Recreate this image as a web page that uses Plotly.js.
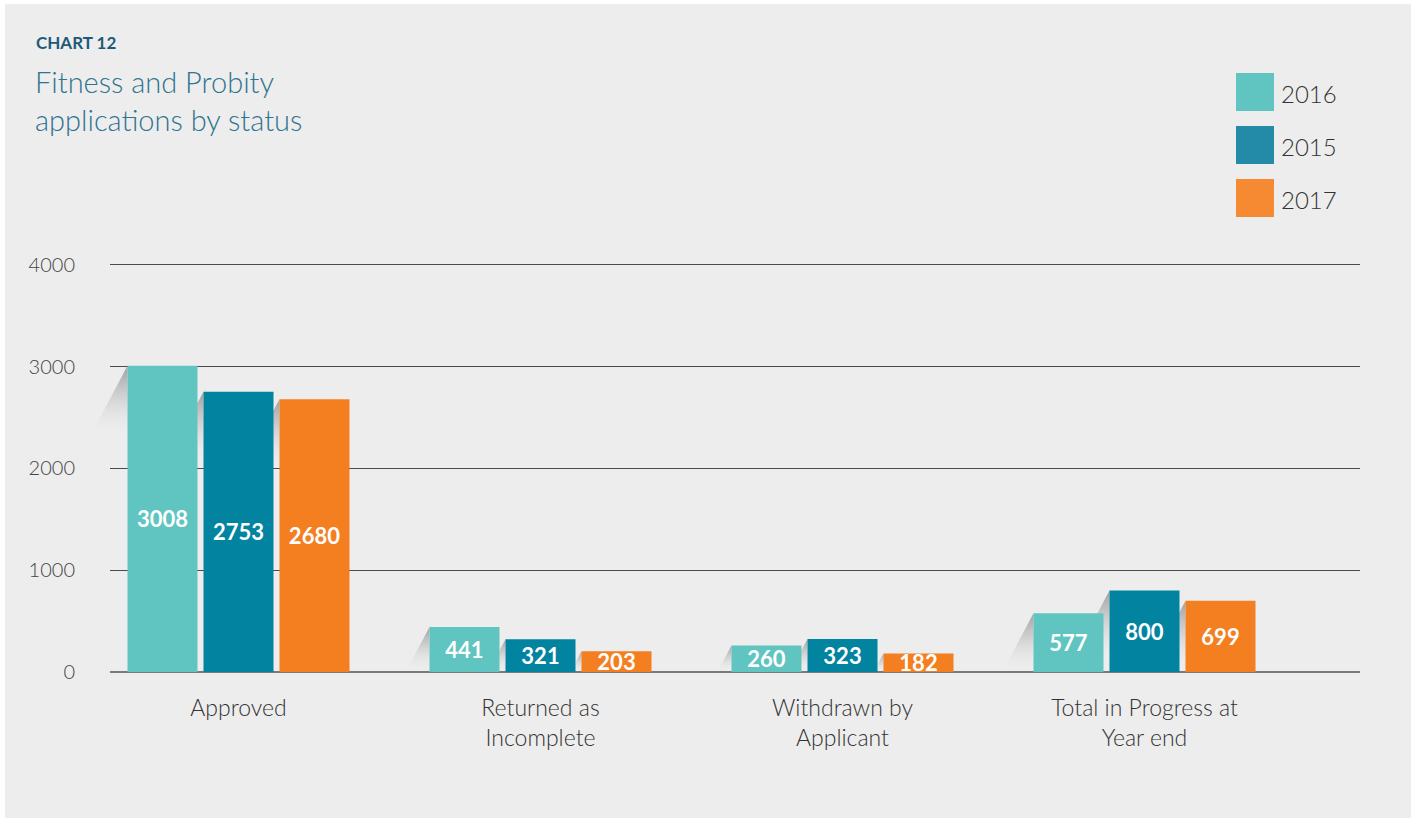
<!DOCTYPE html>
<html>
<head>
<meta charset="utf-8">
<script src="https://cdn.plot.ly/plotly-3.0.1.min.js"></script>
<style>
  html, body { margin: 0; padding: 0; background: #ffffff; width: 1416px; height: 818px; overflow: hidden; }
  #chart { position: absolute; left: 5px; top: 4px; width: 1406px; height: 814px; }
</style>
</head>
<body>
<div id="chart"></div>
<script>
// ---- data ----
const categories = ["Approved", "Returned as<br>Incomplete", "Withdrawn by<br>Applicant", "Total in Progress at<br>Year end"];
const seriesNames = ["2016", "2015", "2017"];
const values2016 = [3008, 441, 260, 577];
const values2015 = [2753, 321, 323, 800];
const values2017 = [2680, 203, 182, 699];
const yTicks = [0, 1000, 2000, 3000, 4000];

// ---- styling ----
const barColors = ["#60c5c1", "#0283a0", "#f47f20"];
const legendColors = ["#60c5c1", "#238aa7", "#f68a33"];
const FONT = "Lato, 'Open Sans', sans-serif";

// layout geometry (page pixels -> paper)
const W = 1406, H = 814, ML = 55, MR = 51, MT = 220, MB = 146;
const plotW = W - ML - MR, plotH = H - MT - MB;
const px = p => (p - 5 - ML) / plotW;
const py = p => ((H - MB) - (p - 4)) / plotH;

const barDomainStart = px(110);
const xRange = [-0.4255, 3.7136];
const unitPx = (plotW * (1 - barDomainStart)) / (xRange[1] - xRange[0]);
const xRangeShadow = [xRange[0] - (plotW * barDomainStart) / unitPx, xRange[1]];
const yRange = [0, 4400];
const bargap = 0.245, bargroupgap = 0.079;
const slot = (1 - bargap) / 3;
const bw = slot * (1 - bargroupgap);

const allSeries = [values2016, values2015, values2017];
const xIdx = categories.map((_, i) => i);

const traces = [];
// soft shadows (wider, hidden subplot drawn beneath the bar subplot)
allSeries.forEach((vals, t) => {
  vals.forEach((v, c) => {
    const xl = c + (t - 1) * slot - bw / 2;
    const sy = Math.min(v, 700);
    const sx = 0.125 * sy / 700;
    traces.push({
      type: "scatter", mode: "none", xaxis: "x", yaxis: "y",
      x: [xl, xl - sx, xl, xl],
      y: [v, v - sy, v - sy, v],
      fill: "toself",
      fillgradient: { type: "vertical", colorscale: [[0, "rgba(237,237,237,0)"], [0.55, "rgba(190,190,190,0.55)"], [1, "rgba(150,150,150,0.9)"]] },
      hoverinfo: "skip", showlegend: false
    });
  });
});
// bars
allSeries.forEach((vals, t) => {
  traces.push({
    type: "bar", name: seriesNames[t], xaxis: "x2", yaxis: "y2",
    x: xIdx, y: vals, text: vals.map(String),
    textposition: "inside", insidetextanchor: "middle", constraintext: "none", textangle: 0,
    textfont: { family: FONT, size: 22, color: "#ffffff", weight: "bold" },
    marker: { color: barColors[t], line: { width: 0 } },
    showlegend: false, hoverinfo: "x+y"
  });
});

// legend drawn as shapes + annotations
const legendTop = [73, 126, 179];
const shapes = legendTop.map((top, i) => ({
  type: "rect", xref: "paper", yref: "paper",
  x0: px(1236), x1: px(1274), y0: py(top + 38), y1: py(top),
  fillcolor: legendColors[i], line: { width: 0 }
}));
const annotations = [
  { text: "CHART 12", xref: "paper", yref: "paper", x: px(34), y: py(42), xanchor: "left", yanchor: "middle", showarrow: false,
    font: { family: FONT, size: 17, color: "#1d5a78", weight: "bold" } },
  { text: "Fitness and Probity<br>applications by status", xref: "paper", yref: "paper", x: px(33), y: py(100), xanchor: "left", yanchor: "middle", align: "left", showarrow: false,
    font: { family: FONT, size: 29, color: "#2f7490", weight: 300 } }
];
legendTop.forEach((top, i) => {
  annotations.push({ text: seriesNames[i], xref: "paper", yref: "paper", x: px(1279), y: py(top + 20), xanchor: "left", yanchor: "middle", showarrow: false,
    font: { family: FONT, size: 24, color: "#333333", weight: 300 } });
});

const layout = {
  width: W, height: H,
  margin: { l: ML, r: MR, t: MT, b: MB, pad: 0 },
  paper_bgcolor: "#ededed", plot_bgcolor: "rgba(0,0,0,0)",
  barmode: "group", bargap: bargap, bargroupgap: bargroupgap,
  showlegend: false,
  xaxis: { domain: [0, 1], range: xRangeShadow, visible: false, fixedrange: true },
  yaxis: { domain: [0, 1], range: yRange, visible: false, fixedrange: true },
  xaxis2: {
    domain: [barDomainStart, 1], anchor: "y2", range: xRange, tickvals: xIdx, ticktext: categories,
    showgrid: false, zeroline: false, showline: false, ticks: "", ticklabelstandoff: 20,
    tickfont: { family: FONT, size: 23, color: "#333333", weight: 300 }, fixedrange: true
  },
  yaxis2: {
    domain: [0, 1], anchor: "x2", range: yRange, tickvals: yTicks, ticktext: yTicks.map(String),
    showgrid: true, gridcolor: "#4a4a4a", gridwidth: 1,
    zeroline: true, zerolinecolor: "#7a7a7a", zerolinewidth: 2, showline: false, ticks: "",
    ticklabelstandoff: 34, tickfont: { family: FONT, size: 20, color: "#444444", weight: 300 }, fixedrange: true
  },
  shapes: shapes,
  annotations: annotations
};

Plotly.newPlot("chart", traces, layout, { displayModeBar: false, staticPlot: true });
</script>
</body>
</html>
